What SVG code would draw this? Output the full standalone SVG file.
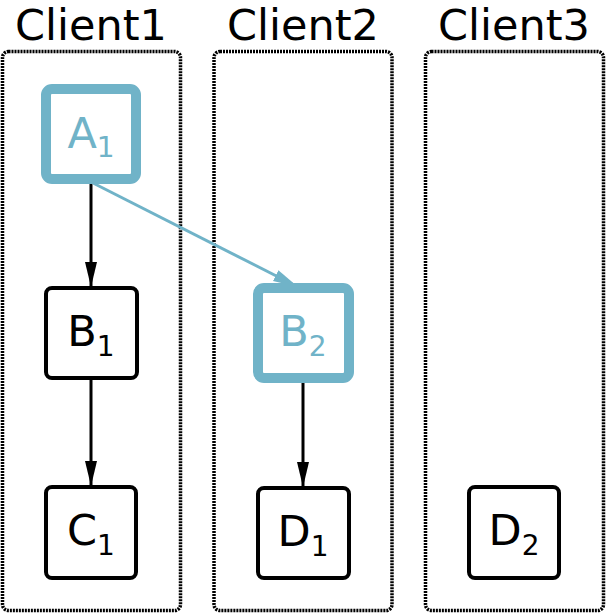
<svg xmlns="http://www.w3.org/2000/svg" width="606" height="614" viewBox="0 0 606 614">
<style>
.cl{fill:none;stroke:#000;stroke-width:3.5;stroke-dasharray:2,1}
.title{font-family:"DejaVu Sans",sans-serif;font-size:43px;fill:#000;text-anchor:middle}
.n{fill:#fff;stroke:#000;stroke-width:4}
.nh{fill:#fff;stroke:#70b3c8;stroke-width:10}
.lbl{font-family:"DejaVu Sans",sans-serif;font-size:43px;fill:#000;text-anchor:middle}
.lblh{fill:#70b3c8}
.sub{font-size:28px}
.e{stroke:#000;stroke-width:3;fill:none}
.eh{stroke:#70b3c8;stroke-width:3;fill:none}
</style>
<defs>
<marker id="ab" markerUnits="userSpaceOnUse" markerWidth="26" markerHeight="14" refX="25" refY="6" orient="auto" viewBox="0 0 26 12">
<path d="M0,0 L25,6 L0,12 Z" fill="#000"/>
</marker>
<marker id="abh" markerUnits="userSpaceOnUse" markerWidth="26" markerHeight="14" refX="25" refY="6" orient="auto" viewBox="0 0 26 12">
<path d="M0,0 L25,6 L0,12 Z" fill="#70b3c8"/>
</marker>
</defs>
<g id="client1">
<rect class="cl" x="2.5" y="51.5" width="178" height="559" rx="6"/>
<text class="title" x="91" y="40">Client1</text>
</g>
<g id="client2">
<rect class="cl" x="214" y="51.5" width="178" height="559" rx="6"/>
<text class="title" x="303" y="40">Client2</text>
</g>
<g id="client3">
<rect class="cl" x="425.5" y="51.5" width="178" height="559" rx="6"/>
<text class="title" x="514" y="40">Client3</text>
</g>
<g id="edges">
<line class="e" x1="91" y1="184" x2="91" y2="287" marker-end="url(#ab)"/>
<line class="e" x1="91" y1="379" x2="91" y2="486" marker-end="url(#ab)"/>
<line class="eh" x1="93" y1="183" x2="298" y2="287" marker-end="url(#abh)"/>
<line class="e" x1="303" y1="383" x2="303" y2="487" marker-end="url(#ab)"/>
</g>
<g id="A1">
<rect class="nh" x="46" y="89" width="90" height="90" rx="6"/>
<text class="lbl lblh" x="91" y="148">A<tspan class="sub" dy="9">1</tspan></text>
</g>
<g id="B1">
<rect class="n" x="46" y="288" width="91" height="90" rx="6"/>
<text class="lbl" x="91" y="346">B<tspan class="sub" dy="10">1</tspan></text>
</g>
<g id="C1">
<rect class="n" x="46" y="487" width="90" height="91" rx="6"/>
<text class="lbl" x="91" y="545">C<tspan class="sub" dy="10">1</tspan></text>
</g>
<g id="B2">
<rect class="nh" x="258" y="288" width="91" height="90" rx="6"/>
<text class="lbl lblh" x="303" y="346">B<tspan class="sub" dy="10">2</tspan></text>
</g>
<g id="D1">
<rect class="n" x="258" y="488" width="91" height="90" rx="6"/>
<text class="lbl" x="303" y="546">D<tspan class="sub" dy="10">1</tspan></text>
</g>
<g id="D2">
<rect class="n" x="469" y="487" width="90" height="91" rx="6"/>
<text class="lbl" x="514" y="545">D<tspan class="sub" dy="10">2</tspan></text>
</g>
</svg>
